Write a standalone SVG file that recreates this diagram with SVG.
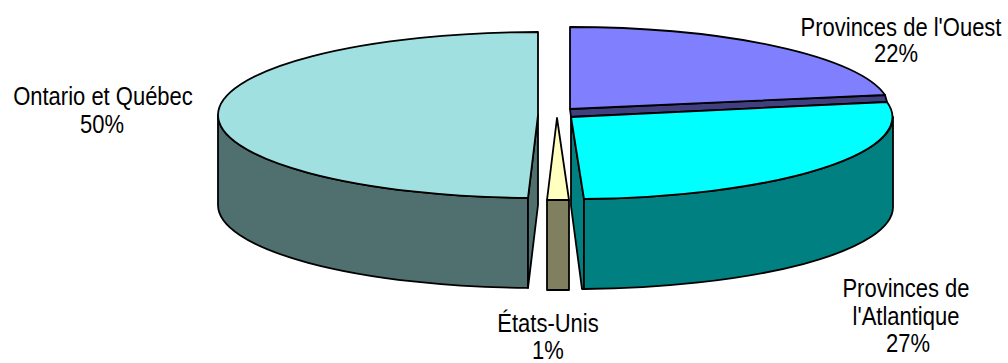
<svg xmlns="http://www.w3.org/2000/svg" width="1008" height="363" viewBox="0 0 1008 363">
<style>
.s{stroke:#000;stroke-width:1.8;stroke-linejoin:round}
.t{font-family:"Liberation Sans",Arial,sans-serif;font-size:22px;fill:#000;text-anchor:middle}
</style>
<rect width="1008" height="363" fill="#fff"/>
<g id="ontario">
<path class="s" fill="#507070" d="M218,115 L218,205 A320,83 0 0 0 528,287.96 L528,197.96 A320,83 0 0 1 218,115 Z"/>
<polygon class="s" fill="#507070" points="538,115 528,197.96 528,287.96 538,205"/>
<path class="s" fill="#A0E0E0" d="M538,115 L538,32 A320,83 0 0 0 218,115 A320,83 0 0 0 528,197.96 Z"/>
</g>
<g id="etats-unis">
<rect class="s" fill="#808060" x="547" y="200" width="22" height="90"/>
<polygon class="s" fill="#FFFFC0" points="557,118 547,200 569,200"/>
</g>
<g id="ouest">
<polygon class="s" fill="#404080" points="570,109 885,95 887,102 571,117"/>
<path class="s" fill="#8080FF" d="M570,109 L570,27 A320,82 0 0 1 885,95 Z"/>
</g>
<g id="atlantique">
<polygon class="s" fill="#008080" points="571,117 584,199 584,289 582,289 571,206"/>
<path class="s" fill="#008080" d="M893,117 L893,207 A320,82 0 0 1 584,289 L584,199 A320,82 0 0 0 893,117 Z"/>
<path class="s" fill="#00FFFF" d="M571,117 L887,102 A320,82 0 0 1 584,199 Z"/>
</g>
<g id="labels">
<text class="t" transform="translate(901,36) scale(1,1.15)">Provinces de l'Ouest</text>
<text class="t" transform="translate(896,62) scale(1,1.15)">22%</text>
<text class="t" transform="translate(103,105) scale(1,1.15)">Ontario et Québec</text>
<text class="t" transform="translate(102,133) scale(1,1.15)">50%</text>
<text class="t" transform="translate(548,332) scale(1,1.15)">États-Unis</text>
<text class="t" transform="translate(548,359) scale(1,1.15)">1%</text>
<text class="t" transform="translate(906,297) scale(1,1.15)">Provinces de</text>
<text class="t" transform="translate(906,325) scale(1,1.15)">l'Atlantique</text>
<text class="t" transform="translate(908,352) scale(1,1.15)">27%</text>
</g>
<g id="connectors"/>
</svg>
